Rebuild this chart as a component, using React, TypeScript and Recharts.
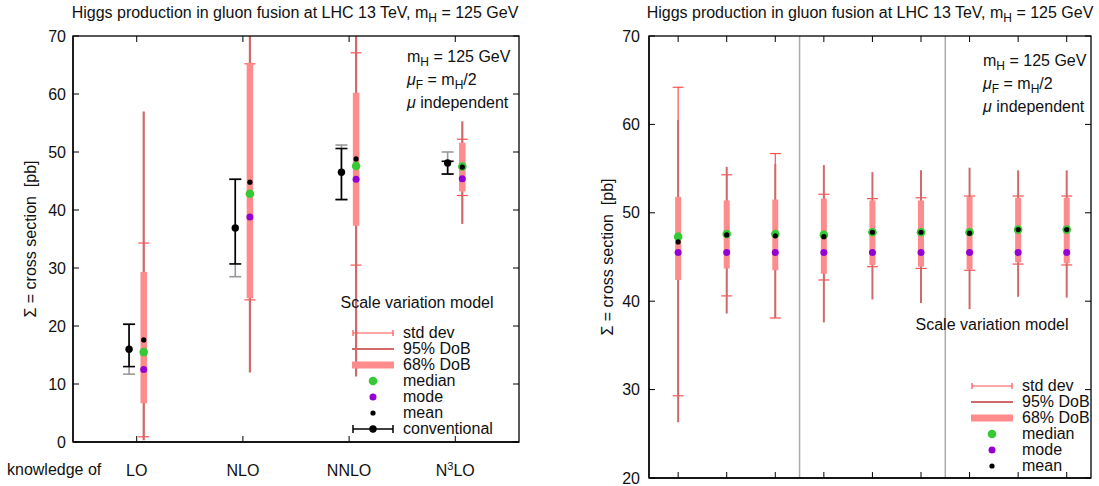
import React from 'react';
import { ComposedChart, Scatter, ErrorBar, XAxis, YAxis, ReferenceLine, Label } from 'recharts';

// left panel: perturbative orders
const orders = ['LO', 'NLO', 'NNLO', 'N3LO'];
const orderPos = [1, 2, 3, 4];
const orderMedian = [15.5, 42.8, 47.6, 47.5];
const orderMode = [12.5, 38.8, 45.3, 45.4];
const orderMean = [17.6, 44.8, 48.8, 47.4];
const order95Lo = [0.3, 12.0, 11.3, 37.6];
const order95Hi = [57.0, 70.0, 70.0, 55.3]; // NLO, NNLO run off the top of the frame
const order68Lo = [6.7, 24.8, 37.3, 43.2];
const order68Hi = [29.3, 65.4, 60.2, 51.6];
const orderStdLo = [0.9, 24.5, 30.5, 42.5];
const orderStdHi = [34.3, 65.2, 67.1, 52.2];
const convValue = [16.0, 36.9, 46.5, 48.1];
const convLo = [13.0, 30.7, 41.8, 46.2];
const convHi = [20.3, 45.3, 50.6, 48.4];
const convAltLo = [11.7, 28.5, 41.8, 46.2];
const convAltHi = [20.3, 45.3, 51.2, 50.0];

// right panel: N3LO for different setups
const setupPos = [1, 2, 3, 4, 5, 6, 7, 8, 9];
const setupMedian = [47.3, 47.6, 47.6, 47.5, 47.8, 47.8, 47.8, 48.1, 48.1];
const setupMode = [45.5, 45.5, 45.5, 45.5, 45.5, 45.5, 45.5, 45.5, 45.5];
const setupMean = [46.7, 47.5, 47.4, 47.3, 47.8, 47.8, 47.7, 48.1, 48.1];
const setup95Lo = [26.3, 38.6, 38.1, 37.6, 40.2, 39.8, 39.1, 40.5, 40.4];
const setup95Hi = [60.5, 55.2, 55.5, 55.4, 54.6, 54.8, 55.1, 54.8, 54.8];
const setup68Lo = [42.4, 43.7, 43.5, 43.1, 44.1, 43.9, 43.6, 44.4, 44.3];
const setup68Hi = [51.8, 51.4, 51.5, 51.6, 51.4, 51.4, 51.8, 51.7, 51.7];
const setupStdLo = [29.3, 40.6, 38.1, 42.4, 43.9, 43.7, 43.5, 44.2, 44.1];
const setupStdHi = [64.2, 54.3, 56.7, 52.1, 51.6, 51.7, 51.9, 51.9, 51.9];
const setupSeparators = [3.5, 6.5];

const leftTicks = [0, 10, 20, 30, 40, 50, 60, 70];
const rightTicks = [20, 30, 40, 50, 60, 70];
const leftXDomain = [0.4, 4.6];
const leftYDomain = [0, 70];
const rightXDomain = [0.4, 9.5];
const rightYDomain = [20, 70];

const FONT = '"Liberation Sans", Arial, Helvetica, sans-serif';
const INK = '#111';
const RED68 = '#ff8c8c';
const RED95 = '#d06a6a';
const REDSTD = '#ff5050';
const GREEN = '#35c935';
const PURPLE = '#9400d3';
const GRAY = '#999';

const MODEL_SHIFT = 0.066;
const CONV_SHIFT = -0.072;

const shift = (xs: number[], d: number) => xs.map((x) => x + d);
const rangeRows = (xs: number[], lo: number[], hi: number[]) =>
  xs.map((x, i) => ({ x, y: lo[i], err: [0, hi[i] - lo[i]] }));
const pointRows = (xs: number[], ys: number[]) => xs.map((x, i) => ({ x, y: ys[i] }));
const dot = (r: number, fill: string) => (p: any) => <circle cx={p.cx} cy={p.cy} r={r} fill={fill} />;
const noShape = () => <g />;
const blank = () => '';

const frame = { stroke: '#000', strokeWidth: 1.3 };

function band(key: string, data: any[], color: string, strokeWidth: number, cap: number) {
  return (
    <Scatter key={key} data={data} shape={noShape} isAnimationActive={false} legendType="none">
      <ErrorBar dataKey="err" direction="y" width={cap} stroke={color} strokeWidth={strokeWidth} isAnimationActive={false} />
    </Scatter>
  );
}

function points(key: string, data: any[], r: number, fill: string) {
  return <Scatter key={key} data={data} shape={dot(r, fill)} isAnimationActive={false} legendType="none" />;
}

// gnuplot-style box with inward ticks, laid over the plot area of a chart
const Box = ({ left, top, w, h, xd, yd, xt, yt }: any) => {
  const px = (v: number) => ((v - xd[0]) / (xd[1] - xd[0])) * w;
  const py = (v: number) => h - ((v - yd[0]) / (yd[1] - yd[0])) * h;
  const t = 6;
  return (
    <svg width={w + 4} height={h + 4} style={{ position: 'absolute', left: left - 2, top: top - 2, pointerEvents: 'none' }}>
      <g transform="translate(2 2)" stroke="#000" fill="none">
        <rect x={0} y={0} width={w} height={h} strokeWidth={1.3} />
        {xt.map((v: number) => (
          <g key={'x' + v} strokeWidth={1}>
            <line x1={px(v)} y1={h} x2={px(v)} y2={h - t} />
            <line x1={px(v)} y1={0} x2={px(v)} y2={t} />
          </g>
        ))}
        {yt.map((v: number) => (
          <g key={'y' + v} strokeWidth={1}>
            <line x1={0} y1={py(v)} x2={t} y2={py(v)} />
            <line x1={w} y1={py(v)} x2={w - t} y2={py(v)} />
          </g>
        ))}
      </g>
    </svg>
  );
};

const OrderTick = (props: any) => {
  const { x, y, payload } = props;
  const label = orders[payload.value - 1];
  return (
    <text x={x} y={y} dy={12} textAnchor="middle" fontSize={16} fill={INK} fontFamily={FONT}>
      {label === 'N3LO' ? (
        <>
          <tspan>N</tspan>
          <tspan dy={-6} fontSize={11}>3</tspan>
          <tspan dy={6}>LO</tspan>
        </>
      ) : (
        label
      )}
    </text>
  );
};

const yTitle = (dx: number) => (props: any) => {
  const vb = props.viewBox || { x: 0, y: 0, width: 0, height: 0 };
  const cx = vb.x + dx;
  const cy = vb.y + vb.height / 2;
  return (
    <text x={cx} y={cy} transform={`rotate(-90 ${cx} ${cy})`} textAnchor="middle" dominantBaseline="central"
      fontSize={16} fontFamily={FONT} fill={INK} style={{ whiteSpace: 'pre' }}>
      {'Σ = cross section  [pb]'}
    </text>
  );
};

const sub: React.CSSProperties = { fontSize: 12, position: 'relative', top: 4 };
const txt: React.CSSProperties = { position: 'absolute', fontFamily: FONT, fontSize: 16, color: INK, whiteSpace: 'nowrap', lineHeight: '20px' };

const Title = ({ cx }: { cx: number }) => (
  <div style={{ ...txt, left: cx - 250, width: 500, top: 3, textAlign: 'center' }}>
    Higgs production in gluon fusion at LHC 13 TeV, m<span style={sub}>H</span> = 125 GeV
  </div>
);

const Notes = ({ left, top }: { left: number; top: number }) => (
  <div style={{ ...txt, left, top, lineHeight: '21px' }}>
    <div>m<span style={sub}>H</span> = 125 GeV</div>
    <div><i>μ</i><span style={sub}>F</span> = m<span style={sub}>H</span>/2</div>
    <div><i>μ</i> independent</div>
  </div>
);

const Sample = ({ kind }: { kind: string }) => (
  <svg width={42} height={16} style={{ display: 'block' }}>
    {kind === 'std' && (
      <g stroke={REDSTD} strokeWidth={1.2}>
        <line x1={1} y1={8} x2={41} y2={8} />
        <line x1={1} y1={5} x2={1} y2={11} />
        <line x1={41} y1={5} x2={41} y2={11} />
      </g>
    )}
    {kind === '95' && <line x1={0} y1={8} x2={42} y2={8} stroke={RED95} strokeWidth={2} />}
    {kind === '68' && <line x1={0} y1={8} x2={42} y2={8} stroke={RED68} strokeWidth={7} />}
    {kind === 'median' && <circle cx={21} cy={8} r={4.3} fill={GREEN} />}
    {kind === 'mode' && <circle cx={21} cy={8} r={3.5} fill={PURPLE} />}
    {kind === 'mean' && <circle cx={21} cy={8} r={2.6} fill="#000" />}
    {kind === 'conv' && (
      <g stroke="#000" strokeWidth={1.5}>
        <line x1={1} y1={8} x2={41} y2={8} />
        <line x1={1} y1={4} x2={1} y2={12} />
        <line x1={41} y1={4} x2={41} y2={12} />
        <circle cx={21} cy={8} r={3.7} fill="#000" stroke="none" />
      </g>
    )}
  </svg>
);

const legendRows = [
  ['std', 'std dev'],
  ['95', '95% DoB'],
  ['68', '68% DoB'],
  ['median', 'median'],
  ['mode', 'mode'],
  ['mean', 'mean'],
  ['conv', 'conventional'],
];

const Key = ({ left, top, titleCx, titleTop, withConv }: any) => (
  <>
    <div style={{ ...txt, left: titleCx - 100, width: 200, top: titleTop, textAlign: 'center' }}>Scale variation model</div>
    <div style={{ position: 'absolute', left, top }}>
      {legendRows
        .filter((r) => withConv || r[0] !== 'conv')
        .map(([k, label]) => (
          <div key={k} style={{ display: 'flex', alignItems: 'center', height: 16 }}>
            <Sample kind={k} />
            <span style={{ fontFamily: FONT, fontSize: 16, color: INK, marginLeft: 9, lineHeight: '16px', whiteSpace: 'nowrap' }}>{label}</span>
          </div>
        ))}
    </div>
  </>
);

const OrdersChart = () => {
  const mx = shift(orderPos, MODEL_SHIFT);
  const cx = shift(orderPos, CONV_SHIFT);
  return (
    <ComposedChart width={540} height={486} margin={{ top: 36, right: 21, bottom: 0, left: 13 }}>
      <XAxis type="number" dataKey="x" domain={leftXDomain} allowDataOverflow ticks={orderPos} interval={0} tick={<OrderTick />}
        tickLine={false} tickSize={0} tickMargin={22} height={44} axisLine={frame} />
      <YAxis type="number" dataKey="y" domain={leftYDomain} allowDataOverflow ticks={leftTicks} interval={0}
        tickLine={false} tickSize={0} tickMargin={7} width={60}
        tick={{ fontSize: 16, fill: INK, fontFamily: FONT }} axisLine={frame}>
        <Label content={yTitle(17)} />
      </YAxis>
      {band('convAlt', rangeRows(cx, convAltLo, convAltHi), GRAY, 1.6, 6)}
      {band('conv', rangeRows(cx, convLo, convHi), '#000', 1.6, 6)}
      {points('convPt', pointRows(cx, convValue), 3.7, '#000')}
      {band('std', rangeRows(mx, orderStdLo, orderStdHi), REDSTD, 1.2, 5.5)}
      {band('p95', rangeRows(mx, order95Lo, order95Hi), RED95, 2.2, 0)}
      {band('p68', rangeRows(mx, order68Lo, order68Hi), RED68, 6.5, 0)}
      {points('median', pointRows(mx, orderMedian), 4.3, GREEN)}
      {points('mode', pointRows(mx, orderMode), 3.5, PURPLE)}
      {points('mean', pointRows(mx, orderMean), 2.6, '#000')}
    </ComposedChart>
  );
};

const SetupsChart = () => (
  <ComposedChart width={509} height={486} margin={{ top: 36, right: 8, bottom: 0, left: 9 }}>
    <XAxis type="number" dataKey="x" domain={rightXDomain} allowDataOverflow ticks={setupPos} interval={0} tickFormatter={blank}
      tickLine={false} tickSize={0} height={8} axisLine={frame} />
    <YAxis type="number" dataKey="y" domain={rightYDomain} allowDataOverflow ticks={rightTicks} interval={0}
      tickLine={false} tickSize={0} tickMargin={9} width={50}
      tick={{ fontSize: 16, fill: INK, fontFamily: FONT }} axisLine={frame}>
      <Label content={yTitle(8)} />
    </YAxis>
    {setupSeparators.map((s) => (
      <ReferenceLine key={s} x={s} stroke="#aaa" strokeWidth={1.5} />
    ))}
    {band('std', rangeRows(setupPos, setupStdLo, setupStdHi), REDSTD, 1.2, 5.5)}
    {band('p95', rangeRows(setupPos, setup95Lo, setup95Hi), RED95, 2, 0)}
    {band('p68', rangeRows(setupPos, setup68Lo, setup68Hi), RED68, 6, 0)}
    {points('median', pointRows(setupPos, setupMedian), 4.3, GREEN)}
    {points('mode', pointRows(setupPos, setupMode), 3.5, PURPLE)}
    {points('mean', pointRows(setupPos, setupMean), 2.6, '#000')}
  </ComposedChart>
);

export default function App() {
  return (
    <div style={{ position: 'absolute', left: 0, top: 0, width: 1099, height: 486, background: '#fff', overflow: 'hidden' }}>
      <div style={{ position: 'absolute', top: 0, left: 0 }}>
        <OrdersChart />
      </div>
      <div style={{ position: 'absolute', top: 0, left: 590 }}>
        <SetupsChart />
      </div>
      <Box left={73} top={36} w={446} h={406} xd={leftXDomain} yd={leftYDomain} xt={orderPos} yt={leftTicks} />
      <Box left={649} top={36} w={442} h={442} xd={rightXDomain} yd={rightYDomain} xt={setupPos} yt={rightTicks} />
      <Title cx={295} />
      <Title cx={870} />
      <Notes left={407} top={46} />
      <Notes left={983} top={50} />
      <Key left={352} top={325} titleCx={417} titleTop={293} withConv />
      <Key left={971} top={378} titleCx={992} titleTop={315} withConv={false} />
      <div style={{ ...txt, left: 7, top: 460 }}>knowledge of</div>
    </div>
  );
}
